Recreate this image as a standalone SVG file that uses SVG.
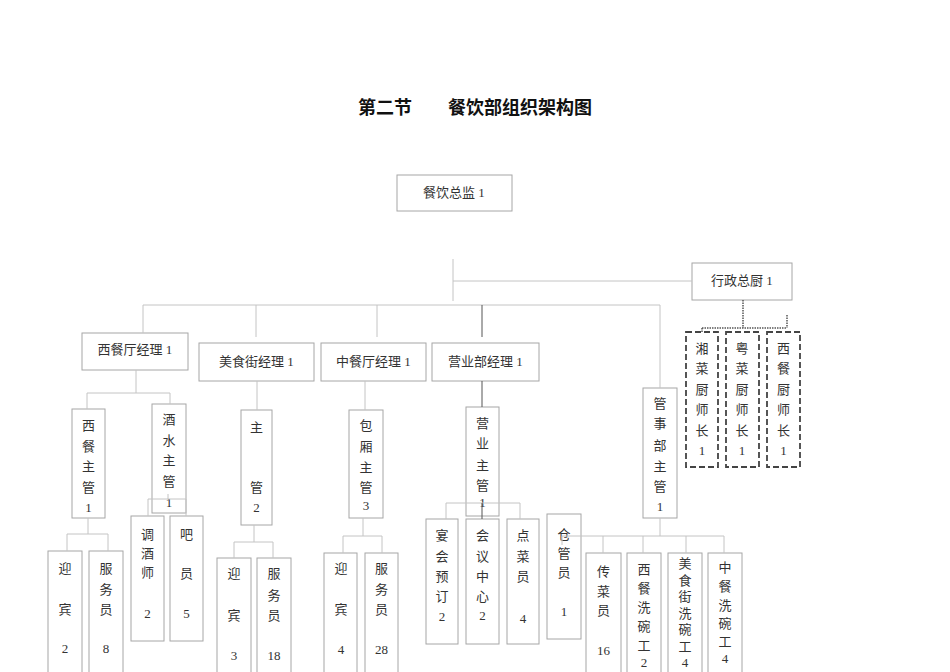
<svg xmlns="http://www.w3.org/2000/svg" width="950" height="672" viewBox="0 0 950 672">
<style>
.bx{fill:#fff;stroke:#a6a6a6;stroke-width:1}
.dx{fill:#fff;stroke:#444;stroke-width:1.8;stroke-dasharray:6 3}
.t{font-family:"Liberation Serif","Noto Sans CJK SC",serif;font-size:13px;fill:#333;text-anchor:middle;dominant-baseline:central}
.ttl{font-family:"Noto Sans CJK SC",sans-serif;font-size:18px;font-weight:bold;fill:#111}
.c line{stroke:#c4c4c4;stroke-width:1}
.c line.dk{stroke:#555}
.c line.dt{stroke:#555;stroke-width:1.5;stroke-dasharray:1.5 1}
</style>
<rect width="950" height="672" fill="#fff"/>
<text class="ttl" x="358" y="114">第二节</text>
<text class="ttl" x="448" y="114">餐饮部组织架构图</text>

<g id="n_director"><rect class="bx" x="397" y="175" width="115" height="36"/><text class="t" x="454" y="192">餐饮总监 1</text></g>
<g id="n_exec_chef"><rect class="bx" x="692" y="263" width="100" height="37"/><text class="t" x="742" y="280">行政总厨 1</text></g>
<g id="n_west_mgr"><rect class="bx" x="82" y="333" width="106" height="37"/><text class="t" x="135" y="349">西餐厅经理 1</text></g>
<g id="n_food_mgr"><rect class="bx" x="199" y="343" width="115" height="38"/><text class="t" x="256.5" y="361">美食街经理 1</text></g>
<g id="n_cn_mgr"><rect class="bx" x="321" y="343" width="105" height="38"/><text class="t" x="373.5" y="361">中餐厅经理 1</text></g>
<g id="n_sales_mgr"><rect class="bx" x="432" y="343" width="107" height="38"/><text class="t" x="485.5" y="361">营业部经理 1</text></g>

<g id="n_xiang"><rect class="dx" x="686" y="332" width="32" height="135"/><text class="t"><tspan x="702" y="348">湘</tspan><tspan x="702" y="368">菜</tspan><tspan x="702" y="389">厨</tspan><tspan x="702" y="409">师</tspan><tspan x="702" y="430">长</tspan><tspan x="702" y="450">1</tspan></text></g>
<g id="n_yue"><rect class="dx" x="726" y="332" width="33" height="135"/><text class="t"><tspan x="742" y="348">粤</tspan><tspan x="742" y="368">菜</tspan><tspan x="742" y="389">厨</tspan><tspan x="742" y="409">师</tspan><tspan x="742" y="430">长</tspan><tspan x="742" y="450">1</tspan></text></g>
<g id="n_xican_chef"><rect class="dx" x="767" y="332" width="33" height="135"/><text class="t"><tspan x="783.5" y="348">西</tspan><tspan x="783.5" y="368">餐</tspan><tspan x="783.5" y="389">厨</tspan><tspan x="783.5" y="409">师</tspan><tspan x="783.5" y="430">长</tspan><tspan x="783.5" y="450">1</tspan></text></g>

<g id="n_west_sup"><rect class="bx" x="72" y="409" width="33" height="109"/><text class="t"><tspan x="88.5" y="425">西</tspan><tspan x="88.5" y="446">餐</tspan><tspan x="88.5" y="466">主</tspan><tspan x="88.5" y="487">管</tspan><tspan x="88.5" y="507">1</tspan></text></g>
<g id="n_bev_sup"><rect class="bx" x="152" y="404" width="34" height="109"/><text class="t"><tspan x="169" y="419">酒</tspan><tspan x="169" y="440">水</tspan><tspan x="169" y="460">主</tspan><tspan x="169" y="481">管</tspan><tspan x="169" y="502">1</tspan></text></g>
<g id="n_bartender"><rect class="bx" x="131" y="516" width="33" height="125"/><text class="t"><tspan x="147.5" y="534">调</tspan><tspan x="147.5" y="553">酒</tspan><tspan x="147.5" y="572">师</tspan><tspan x="147.5" y="613">2</tspan></text></g>
<g id="n_barstaff"><rect class="bx" x="170" y="516" width="33" height="125"/><text class="t"><tspan x="186.5" y="534">吧</tspan><tspan x="186.5" y="573">员</tspan><tspan x="186.5" y="613">5</tspan></text></g>
<g id="n_host1"><rect class="bx" x="48" y="551" width="34" height="130"/><text class="t"><tspan x="65" y="568">迎</tspan><tspan x="65" y="609">宾</tspan><tspan x="65" y="648">2</tspan></text></g>
<g id="n_waiter1"><rect class="bx" x="89" y="551" width="34" height="130"/><text class="t"><tspan x="106" y="568">服</tspan><tspan x="106" y="589">务</tspan><tspan x="106" y="609">员</tspan><tspan x="106" y="648">8</tspan></text></g>

<g id="n_food_sup"><rect class="bx" x="241" y="410" width="31" height="115"/><text class="t"><tspan x="256.5" y="427">主</tspan><tspan x="256.5" y="487">管</tspan><tspan x="256.5" y="507">2</tspan></text></g>
<g id="n_host2"><rect class="bx" x="217" y="558" width="34" height="120"/><text class="t"><tspan x="234" y="573">迎</tspan><tspan x="234" y="615">宾</tspan><tspan x="234" y="655">3</tspan></text></g>
<g id="n_waiter2"><rect class="bx" x="257" y="558" width="34" height="120"/><text class="t"><tspan x="274" y="573">服</tspan><tspan x="274" y="595">务</tspan><tspan x="274" y="615">员</tspan><tspan x="274" y="655">18</tspan></text></g>

<g id="n_room_sup"><rect class="bx" x="349" y="410" width="34" height="108"/><text class="t"><tspan x="366" y="425">包</tspan><tspan x="366" y="446">厢</tspan><tspan x="366" y="467">主</tspan><tspan x="366" y="487">管</tspan><tspan x="366" y="505">3</tspan></text></g>
<g id="n_host3"><rect class="bx" x="324" y="553" width="33" height="120"/><text class="t"><tspan x="341" y="568">迎</tspan><tspan x="341" y="609">宾</tspan><tspan x="341" y="649">4</tspan></text></g>
<g id="n_waiter3"><rect class="bx" x="365" y="553" width="33" height="120"/><text class="t"><tspan x="381.5" y="568">服</tspan><tspan x="381.5" y="589">务</tspan><tspan x="381.5" y="609">员</tspan><tspan x="381.5" y="649">28</tspan></text></g>

<g id="n_sales_sup"><rect class="bx" x="466" y="407" width="33" height="109"/><text class="t"><tspan x="482.5" y="423">营</tspan><tspan x="482.5" y="443">业</tspan><tspan x="482.5" y="465">主</tspan><tspan x="482.5" y="485">管</tspan><tspan x="482.5" y="502">1</tspan></text></g>
<g id="n_banquet"><rect class="bx" x="426" y="519" width="32" height="125"/><text class="t"><tspan x="442" y="535">宴</tspan><tspan x="442" y="556">会</tspan><tspan x="442" y="576">预</tspan><tspan x="442" y="596">订</tspan><tspan x="442" y="616">2</tspan></text></g>
<g id="n_meeting"><rect class="bx" x="466" y="519" width="33" height="125"/><text class="t"><tspan x="482.5" y="535">会</tspan><tspan x="482.5" y="556">议</tspan><tspan x="482.5" y="576">中</tspan><tspan x="482.5" y="596">心</tspan><tspan x="482.5" y="615">2</tspan></text></g>
<g id="n_order"><rect class="bx" x="507" y="519" width="32" height="125"/><text class="t"><tspan x="523" y="535">点</tspan><tspan x="523" y="556">菜</tspan><tspan x="523" y="576">员</tspan><tspan x="523" y="618">4</tspan></text></g>
<g id="n_store"><rect class="bx" x="547" y="514" width="34" height="125"/><text class="t"><tspan x="564" y="534">仓</tspan><tspan x="564" y="553">管</tspan><tspan x="564" y="572">员</tspan><tspan x="564" y="611">1</tspan></text></g>

<g id="n_steward"><rect class="bx" x="643" y="388" width="34" height="130"/><text class="t"><tspan x="660" y="403">管</tspan><tspan x="660" y="423">事</tspan><tspan x="660" y="445">部</tspan><tspan x="660" y="466">主</tspan><tspan x="660" y="486">管</tspan><tspan x="660" y="506">1</tspan></text></g>
<g id="n_runner"><rect class="bx" x="586" y="553" width="35" height="125"/><text class="t"><tspan x="603.5" y="571">传</tspan><tspan x="603.5" y="591">菜</tspan><tspan x="603.5" y="610">员</tspan><tspan x="603.5" y="650">16</tspan></text></g>
<g id="n_wash_w"><rect class="bx" x="627" y="553" width="34" height="125"/><text class="t"><tspan x="644" y="569">西</tspan><tspan x="644" y="588">餐</tspan><tspan x="644" y="607">洗</tspan><tspan x="644" y="626">碗</tspan><tspan x="644" y="645">工</tspan><tspan x="644" y="662">2</tspan></text></g>
<g id="n_wash_f"><rect class="bx" x="668" y="553" width="34" height="125"/><text class="t"><tspan x="685" y="563">美</tspan><tspan x="685" y="579.5">食</tspan><tspan x="685" y="596">街</tspan><tspan x="685" y="612.5">洗</tspan><tspan x="685" y="629">碗</tspan><tspan x="685" y="645.5">工</tspan><tspan x="685" y="662">4</tspan></text></g>
<g id="n_wash_c"><rect class="bx" x="708" y="553" width="34" height="125"/><text class="t"><tspan x="725" y="567">中</tspan><tspan x="725" y="586">餐</tspan><tspan x="725" y="605">洗</tspan><tspan x="725" y="623">碗</tspan><tspan x="725" y="641">工</tspan><tspan x="725" y="658">4</tspan></text></g>

<g id="connectors" class="c">
<line x1="453" y1="259" x2="453" y2="301"/>
<line x1="453" y1="281" x2="692" y2="281"/>
<line x1="143" y1="305" x2="660" y2="305"/>
<line x1="143" y1="305" x2="143" y2="333"/>
<line x1="256" y1="305" x2="256" y2="337"/>
<line x1="377" y1="305" x2="377" y2="337"/>
<line class="dk" x1="482" y1="305" x2="482" y2="337"/>
<line x1="660" y1="305" x2="660" y2="388"/>
<line x1="136" y1="370" x2="136" y2="393"/>
<line x1="87" y1="393" x2="170" y2="393"/>
<line x1="87" y1="393" x2="87" y2="409"/>
<line x1="170" y1="393" x2="170" y2="404"/>
<line x1="257" y1="381" x2="257" y2="410"/>
<line x1="365" y1="381" x2="365" y2="410"/>
<line class="dk" x1="482" y1="381" x2="482" y2="407"/>
<line x1="88" y1="518" x2="88" y2="534"/>
<line x1="67" y1="534" x2="108" y2="534"/>
<line x1="67" y1="534" x2="67" y2="551"/>
<line x1="108" y1="534" x2="108" y2="551"/>
<line x1="168" y1="494" x2="168" y2="499"/>
<line x1="148" y1="499" x2="186" y2="499"/>
<line x1="148" y1="499" x2="148" y2="516"/>
<line x1="186" y1="499" x2="186" y2="516"/>
<line x1="254" y1="525" x2="254" y2="542"/>
<line x1="234" y1="542" x2="273" y2="542"/>
<line x1="234" y1="542" x2="234" y2="558"/>
<line x1="273" y1="542" x2="273" y2="558"/>
<line x1="363" y1="518" x2="363" y2="536"/>
<line x1="343" y1="536" x2="382" y2="536"/>
<line x1="343" y1="536" x2="343" y2="553"/>
<line x1="382" y1="536" x2="382" y2="553"/>
<line x1="446" y1="503" x2="520" y2="503"/>
<line x1="446" y1="503" x2="446" y2="519"/>
<line x1="520" y1="503" x2="520" y2="519"/>
<line class="dk" x1="482" y1="503" x2="482" y2="519"/>
<line x1="660" y1="518" x2="660" y2="536"/>
<line x1="562" y1="536" x2="724" y2="536"/>
<line x1="562" y1="536" x2="562" y2="545"/>
<line x1="603" y1="536" x2="603" y2="553"/>
<line x1="643" y1="536" x2="643" y2="553"/>
<line x1="686" y1="536" x2="686" y2="553"/>
<line x1="724" y1="536" x2="724" y2="553"/>
<line class="dt" x1="743" y1="300" x2="743" y2="328"/>
<line class="dt" x1="702" y1="328" x2="787" y2="328"/>
<line class="dt" x1="787" y1="315" x2="787" y2="328"/>
<line class="dt" x1="702" y1="328" x2="702" y2="332"/>
</g>
</svg>
